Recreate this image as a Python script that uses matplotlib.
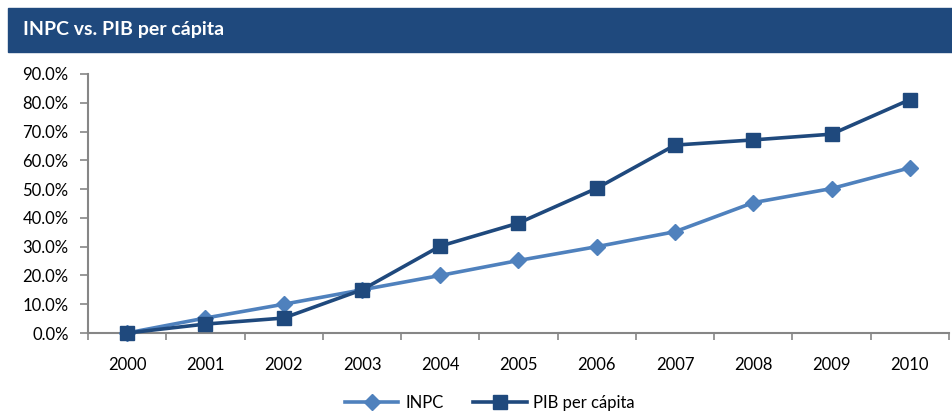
import numpy as np
import matplotlib.pyplot as plt
from matplotlib.patches import Rectangle
from matplotlib.ticker import FuncFormatter, FixedLocator

plt.rcParams['font.family'] = ['Lato', 'DejaVu Sans']

years = ['2000', '2001', '2002', '2003', '2004', '2005',
         '2006', '2007', '2008', '2009', '2010']
inpc = [0.0, 0.052, 0.10, 0.15, 0.20, 0.252, 0.30, 0.352, 0.453, 0.502, 0.574]
pib = [0.0, 0.031, 0.052, 0.15, 0.302, 0.382, 0.503, 0.653, 0.671, 0.691, 0.811]

c_light = '#4F81BD'
c_dark = '#1F497D'
grey = '#868686'

fig = plt.figure(figsize=(9.53, 4.13), dpi=100)

# title band
fig.patches.append(Rectangle((8 / 953, 1 - 52 / 413), 1, 44 / 413,
                             transform=fig.transFigure, color=c_dark, zorder=0))
fig.text(23 / 953, 1 - 30 / 413, 'INPC vs. PIB per cápita', color='white',
         fontsize=14, fontweight='bold', va='center', ha='left')

ax = fig.add_axes([88 / 953, 1 - 333 / 413, 861 / 953, 259 / 413])
x = np.arange(len(years))
ax.plot(x, inpc, color=c_light, lw=2.6, marker='D', ms=8.5, label='INPC',
        clip_on=False, zorder=3)
ax.plot(x, pib, color=c_dark, lw=2.6, marker='s', ms=10.5, label='PIB per cápita',
        clip_on=False, zorder=4)

ax.set_xlim(-0.5, len(years) - 0.5)
ax.set_ylim(0, 0.9)
ax.set_yticks(np.arange(0, 0.91, 0.1))
ax.yaxis.set_major_formatter(FuncFormatter(lambda v, p: f'{v * 100:.1f}%'))
ax.set_xticks(x)
ax.set_xticklabels(years)
ax.xaxis.set_minor_locator(FixedLocator(np.arange(-0.5, len(years), 1.0)))
ax.tick_params(axis='x', which='major', length=0, pad=17, labelsize=12)
ax.tick_params(axis='x', which='minor', length=5, color=grey, width=1.2)
ax.tick_params(axis='y', length=6, color=grey, width=1.2, labelsize=12, pad=8)

for s in ['top', 'right']:
    ax.spines[s].set_visible(False)
for s in ['left', 'bottom']:
    ax.spines[s].set_color(grey)
    ax.spines[s].set_linewidth(1.5)

fig.legend(loc='center', bbox_to_anchor=(490 / 953, 1 - 403 / 413), ncol=2,
           frameon=False, fontsize=12, handlelength=3.2, columnspacing=1.8,
           handletextpad=0.4)

fig.savefig('out.png', dpi=100)
